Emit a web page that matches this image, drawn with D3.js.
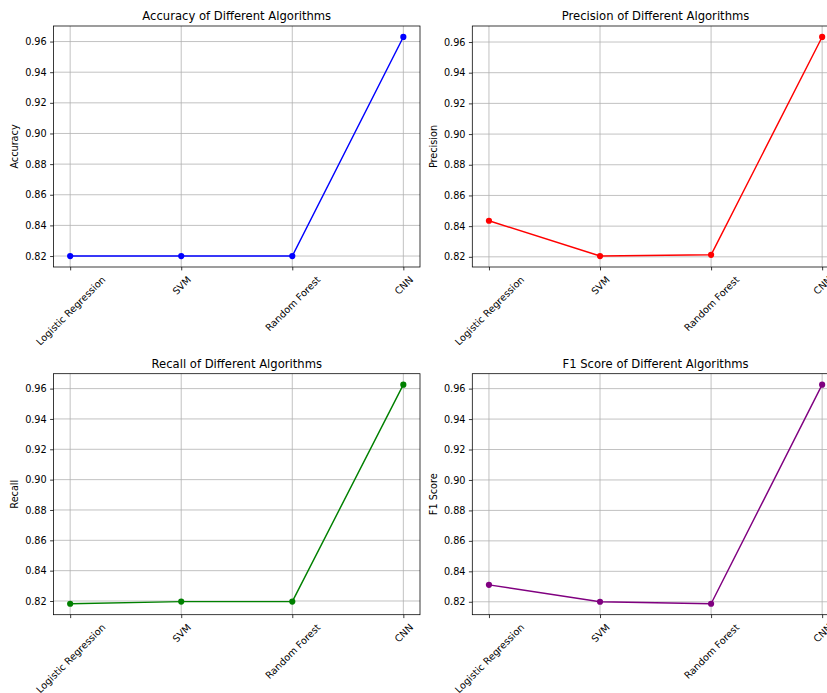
<!DOCTYPE html>
<html>
<head>
<meta charset="utf-8">
<script src="https://cdn.jsdelivr.net/npm/d3@7"></script>
<style>
  body { margin: 0; background: #fff; }
  svg { display: block; font-family: "DejaVu Sans", sans-serif; }
</style>
</head>
<body>
<svg id="chart" width="827" height="693"></svg>
<script>
const categories = ["Logistic Regression", "SVM", "Random Forest", "CNN"];
const accuracy  = [0.820, 0.820, 0.820, 0.963];
const precision = [0.8435, 0.8205, 0.8213, 0.9633];
const recall    = [0.8182, 0.8196, 0.8196, 0.9626];
const f1Score   = [0.8311, 0.8200, 0.8187, 0.9626];
const yTicks    = [0.82, 0.84, 0.86, 0.88, 0.90, 0.92, 0.94, 0.96];

const panels = [
  { title: "Accuracy of Different Algorithms",  ylabel: "Accuracy",  values: accuracy,  color: "#0000ff", x0: 53.5,  x1: 420,   y0: 26,    y1: 267 },
  { title: "Precision of Different Algorithms", ylabel: "Precision", values: precision, color: "#ff0000", x0: 472.3, x1: 838.8, y0: 26,    y1: 267 },
  { title: "Recall of Different Algorithms",    ylabel: "Recall",    values: recall,    color: "#008000", x0: 53.5,  x1: 420,   y0: 373.7, y1: 614.7 },
  { title: "F1 Score of Different Algorithms",  ylabel: "F1 Score",  values: f1Score,   color: "#800080", x0: 472.3, x1: 838.8, y0: 373.7, y1: 614.7 }
];

const svg = d3.select("#chart");
svg.append("rect").attr("width", 827).attr("height", 693).attr("fill", "#fff");

const tickFont = 9.7, titleFont = 11.6, tickLen = 3.4, tickPad = 3.4;

panels.forEach(p => {
  const x = d3.scalePoint().domain(categories).range([p.x0, p.x1]).padding(0.15);
  const lo = d3.min(p.values), hi = d3.max(p.values), m = (hi - lo) * 0.05;
  const y = d3.scaleLinear().domain([lo - m, hi + m]).range([p.y1, p.y0]);
  const g = svg.append("g");

  // grid
  const grid = g.append("g").attr("stroke", "#b0b0b0").attr("stroke-width", 0.77);
  categories.forEach(c => grid.append("line").attr("x1", x(c)).attr("x2", x(c)).attr("y1", p.y0).attr("y2", p.y1));
  yTicks.forEach(t => grid.append("line").attr("x1", p.x0).attr("x2", p.x1).attr("y1", y(t)).attr("y2", y(t)));

  // line + markers
  const line = d3.line().x((d, i) => x(categories[i])).y(d => y(d));
  g.append("path").datum(p.values).attr("d", line).attr("fill", "none")
    .attr("stroke", p.color).attr("stroke-width", 1.44).attr("stroke-linejoin", "round");
  g.selectAll("circle.pt").data(p.values).enter().append("circle")
    .attr("cx", (d, i) => x(categories[i])).attr("cy", d => y(d)).attr("r", 3.1).attr("fill", p.color);

  // y axis
  const ya = g.append("g").attr("transform", `translate(${p.x0},0)`)
    .call(d3.axisLeft(y).tickValues(yTicks).tickSize(tickLen).tickPadding(tickPad).tickFormat(d3.format(".2f")));
  ya.select(".domain").remove();
  ya.selectAll(".tick line").attr("stroke", "#000").attr("stroke-width", 0.77);
  ya.selectAll(".tick text").attr("font-size", tickFont).attr("fill", "#000").attr("font-family", "DejaVu Sans");

  // x axis
  const xa = g.append("g").attr("transform", `translate(0,${p.y1})`)
    .call(d3.axisBottom(x).tickSize(tickLen).tickPadding(tickPad));
  xa.select(".domain").remove();
  xa.selectAll(".tick line").attr("stroke", "#000").attr("stroke-width", 0.77);
  xa.selectAll(".tick text").each(function() {
    const t = d3.select(this);
    t.attr("font-size", tickFont).attr("fill", "#000").attr("font-family", "DejaVu Sans")
      .attr("text-anchor", "middle").attr("dy", null).attr("y", null).attr("dominant-baseline", "central");
    const w = this.getComputedTextLength();
    const h = tickFont * 1.17;
    const half = (w + h) * Math.SQRT1_2 / 2;
    const cy = tickLen + tickPad + half;
    t.attr("transform", `translate(0,${cy}) rotate(-45)`);
  });

  // spines
  g.append("rect").attr("x", p.x0).attr("y", p.y0).attr("width", p.x1 - p.x0).attr("height", p.y1 - p.y0)
    .attr("fill", "none").attr("stroke", "#000").attr("stroke-width", 0.77);

  // title
  g.append("text").attr("x", (p.x0 + p.x1) / 2).attr("y", p.y0 - 6).attr("text-anchor", "middle")
    .attr("font-size", titleFont).attr("fill", "#000").text(p.title);

  // y label
  const lx = p.x0 - 38.6, ly = (p.y0 + p.y1) / 2;
  g.append("text").attr("transform", `translate(${lx},${ly}) rotate(-90)`).attr("text-anchor", "middle")
    .attr("dominant-baseline", "central").attr("font-size", tickFont).attr("fill", "#000").text(p.ylabel);
});
</script>
</body>
</html>
